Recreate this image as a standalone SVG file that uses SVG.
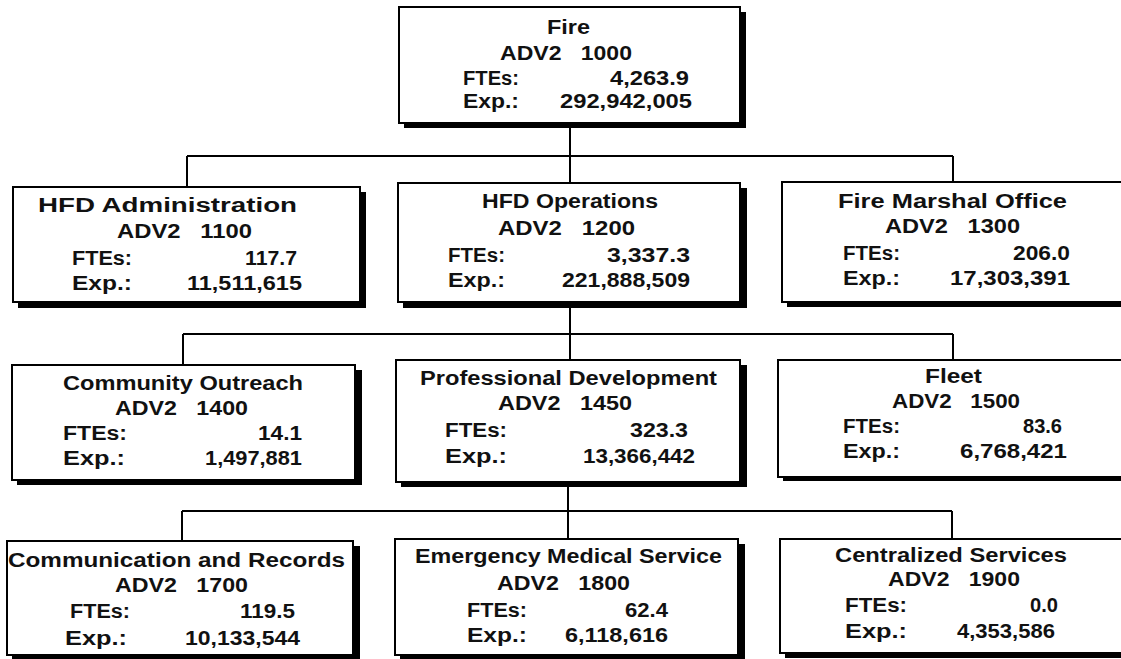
<svg xmlns="http://www.w3.org/2000/svg" width="1121" height="659" viewBox="0 0 1121 659">
<style>
.bg{fill:#fff}
.sh{fill:#000}
.bx{fill:#fff;stroke:#000;stroke-width:2}
.t{font-family:"Liberation Sans",Arial,sans-serif;font-weight:bold;font-size:20px;fill:#111}
.p{white-space:pre}
.ln{fill:none;stroke:#000;stroke-width:2}
</style>
<rect class="bg" x="0" y="0" width="1121" height="659"/>
<g id="connectors">
<path class="ln" d="M570 123V156M187 156H953M187 156V187M570 156V183M953 156V182"/>
<path class="ln" d="M570 302V334M183 334H953M183 334V365M570 334V360M953 334V360"/>
<path class="ln" d="M568 482V511M182 511H952M182 511V541M568 511V539M952 511V539"/>
</g>
<g id="n1000">
<rect class="sh" x="404" y="12" width="342" height="116"/>
<rect class="bx" x="399" y="7" width="341" height="116"/>
<text class="t" x="547" y="34" textLength="43" lengthAdjust="spacingAndGlyphs">Fire</text>
<text class="t p" x="500" y="60" textLength="132" lengthAdjust="spacingAndGlyphs">ADV2   1000</text>
<text class="t" x="463" y="85" textLength="56" lengthAdjust="spacingAndGlyphs">FTEs:</text>
<text class="t" x="610" y="85" textLength="79" lengthAdjust="spacingAndGlyphs">4,263.9</text>
<text class="t" x="463" y="108" textLength="56" lengthAdjust="spacingAndGlyphs">Exp.:</text>
<text class="t" x="560" y="108" textLength="132" lengthAdjust="spacingAndGlyphs">292,942,005</text>
</g>
<g id="n1100">
<rect class="sh" x="18" y="192" width="348" height="116"/>
<rect class="bx" x="13" y="187" width="347" height="115"/>
<text class="t" x="38" y="212" textLength="259" lengthAdjust="spacingAndGlyphs">HFD Administration</text>
<text class="t p" x="117" y="238" textLength="135" lengthAdjust="spacingAndGlyphs">ADV2   1100</text>
<text class="t" x="72" y="265" textLength="60" lengthAdjust="spacingAndGlyphs">FTEs:</text>
<text class="t" x="245" y="265" textLength="52" lengthAdjust="spacingAndGlyphs">117.7</text>
<text class="t" x="72" y="290" textLength="60" lengthAdjust="spacingAndGlyphs">Exp.:</text>
<text class="t" x="187" y="290" textLength="115" lengthAdjust="spacingAndGlyphs">11,511,615</text>
</g>
<g id="n1200">
<rect class="sh" x="403" y="188" width="344" height="120"/>
<rect class="bx" x="398" y="183" width="342" height="119"/>
<text class="t" x="482" y="208" textLength="176" lengthAdjust="spacingAndGlyphs">HFD Operations</text>
<text class="t p" x="498" y="235" textLength="137" lengthAdjust="spacingAndGlyphs">ADV2   1200</text>
<text class="t" x="448" y="262" textLength="57" lengthAdjust="spacingAndGlyphs">FTEs:</text>
<text class="t" x="607" y="262" textLength="83" lengthAdjust="spacingAndGlyphs">3,337.3</text>
<text class="t" x="448" y="287" textLength="57" lengthAdjust="spacingAndGlyphs">Exp.:</text>
<text class="t" x="562" y="287" textLength="128" lengthAdjust="spacingAndGlyphs">221,888,509</text>
</g>
<g id="n1300">
<rect class="sh" x="787" y="187" width="360" height="120"/>
<rect class="bx" x="782" y="182" width="360" height="120"/>
<text class="t" x="838" y="208" textLength="229" lengthAdjust="spacingAndGlyphs">Fire Marshal Office</text>
<text class="t p" x="885" y="233" textLength="135" lengthAdjust="spacingAndGlyphs">ADV2   1300</text>
<text class="t" x="843" y="260" textLength="57" lengthAdjust="spacingAndGlyphs">FTEs:</text>
<text class="t" x="1013" y="260" textLength="57" lengthAdjust="spacingAndGlyphs">206.0</text>
<text class="t" x="843" y="285" textLength="57" lengthAdjust="spacingAndGlyphs">Exp.:</text>
<text class="t" x="950" y="285" textLength="120" lengthAdjust="spacingAndGlyphs">17,303,391</text>
</g>
<g id="n1400">
<rect class="sh" x="17" y="370" width="345" height="115"/>
<rect class="bx" x="12" y="365" width="343" height="115"/>
<text class="t" x="63" y="390" textLength="240" lengthAdjust="spacingAndGlyphs">Community Outreach</text>
<text class="t p" x="115" y="415" textLength="133" lengthAdjust="spacingAndGlyphs">ADV2   1400</text>
<text class="t" x="63" y="440" textLength="64" lengthAdjust="spacingAndGlyphs">FTEs:</text>
<text class="t" x="258" y="440" textLength="44" lengthAdjust="spacingAndGlyphs">14.1</text>
<text class="t" x="63" y="465" textLength="62" lengthAdjust="spacingAndGlyphs">Exp.:</text>
<text class="t" x="205" y="465" textLength="97" lengthAdjust="spacingAndGlyphs">1,497,881</text>
</g>
<g id="n1450">
<rect class="sh" x="401" y="365" width="346" height="122"/>
<rect class="bx" x="396" y="360" width="344" height="122"/>
<text class="t" x="420" y="385" textLength="297" lengthAdjust="spacingAndGlyphs">Professional Development</text>
<text class="t p" x="498" y="410" textLength="134" lengthAdjust="spacingAndGlyphs">ADV2   1450</text>
<text class="t" x="445" y="437" textLength="62" lengthAdjust="spacingAndGlyphs">FTEs:</text>
<text class="t" x="630" y="437" textLength="58" lengthAdjust="spacingAndGlyphs">323.3</text>
<text class="t" x="445" y="463" textLength="62" lengthAdjust="spacingAndGlyphs">Exp.:</text>
<text class="t" x="583" y="463" textLength="112" lengthAdjust="spacingAndGlyphs">13,366,442</text>
</g>
<g id="n1500">
<rect class="sh" x="783" y="365" width="360" height="116"/>
<rect class="bx" x="778" y="360" width="360" height="117"/>
<text class="t" x="925" y="383" textLength="57" lengthAdjust="spacingAndGlyphs">Fleet</text>
<text class="t p" x="892" y="408" textLength="128" lengthAdjust="spacingAndGlyphs">ADV2   1500</text>
<text class="t" x="843" y="433" textLength="57" lengthAdjust="spacingAndGlyphs">FTEs:</text>
<text class="t" x="1023" y="433" textLength="39" lengthAdjust="spacingAndGlyphs">83.6</text>
<text class="t" x="843" y="458" textLength="57" lengthAdjust="spacingAndGlyphs">Exp.:</text>
<text class="t" x="960" y="458" textLength="107" lengthAdjust="spacingAndGlyphs">6,768,421</text>
</g>
<g id="n1700">
<rect class="sh" x="12" y="546" width="348" height="115"/>
<rect class="bx" x="7" y="541" width="346" height="114"/>
<text class="t" x="8" y="567" textLength="337" lengthAdjust="spacingAndGlyphs">Communication and Records</text>
<text class="t p" x="115" y="592" textLength="133" lengthAdjust="spacingAndGlyphs">ADV2   1700</text>
<text class="t" x="70" y="618" textLength="60" lengthAdjust="spacingAndGlyphs">FTEs:</text>
<text class="t" x="240" y="618" textLength="55" lengthAdjust="spacingAndGlyphs">119.5</text>
<text class="t" x="65" y="645" textLength="62" lengthAdjust="spacingAndGlyphs">Exp.:</text>
<text class="t" x="185" y="645" textLength="115" lengthAdjust="spacingAndGlyphs">10,133,544</text>
</g>
<g id="n1800">
<rect class="sh" x="400" y="544" width="345" height="116"/>
<rect class="bx" x="395" y="539" width="343" height="116"/>
<text class="t" x="415" y="563" textLength="307" lengthAdjust="spacingAndGlyphs">Emergency Medical Service</text>
<text class="t p" x="497" y="590" textLength="133" lengthAdjust="spacingAndGlyphs">ADV2   1800</text>
<text class="t" x="467" y="617" textLength="60" lengthAdjust="spacingAndGlyphs">FTEs:</text>
<text class="t" x="625" y="617" textLength="43" lengthAdjust="spacingAndGlyphs">62.4</text>
<text class="t" x="467" y="642" textLength="60" lengthAdjust="spacingAndGlyphs">Exp.:</text>
<text class="t" x="565" y="642" textLength="103" lengthAdjust="spacingAndGlyphs">6,118,616</text>
</g>
<g id="n1900">
<rect class="sh" x="785" y="544" width="360" height="114"/>
<rect class="bx" x="780" y="539" width="360" height="114"/>
<text class="t" x="835" y="562" textLength="232" lengthAdjust="spacingAndGlyphs">Centralized Services</text>
<text class="t p" x="888" y="586" textLength="132" lengthAdjust="spacingAndGlyphs">ADV2   1900</text>
<text class="t" x="845" y="612" textLength="62" lengthAdjust="spacingAndGlyphs">FTEs:</text>
<text class="t" x="1030" y="612" textLength="28" lengthAdjust="spacingAndGlyphs">0.0</text>
<text class="t" x="845" y="638" textLength="62" lengthAdjust="spacingAndGlyphs">Exp.:</text>
<text class="t" x="957" y="638" textLength="98" lengthAdjust="spacingAndGlyphs">4,353,586</text>
</g>
</svg>
